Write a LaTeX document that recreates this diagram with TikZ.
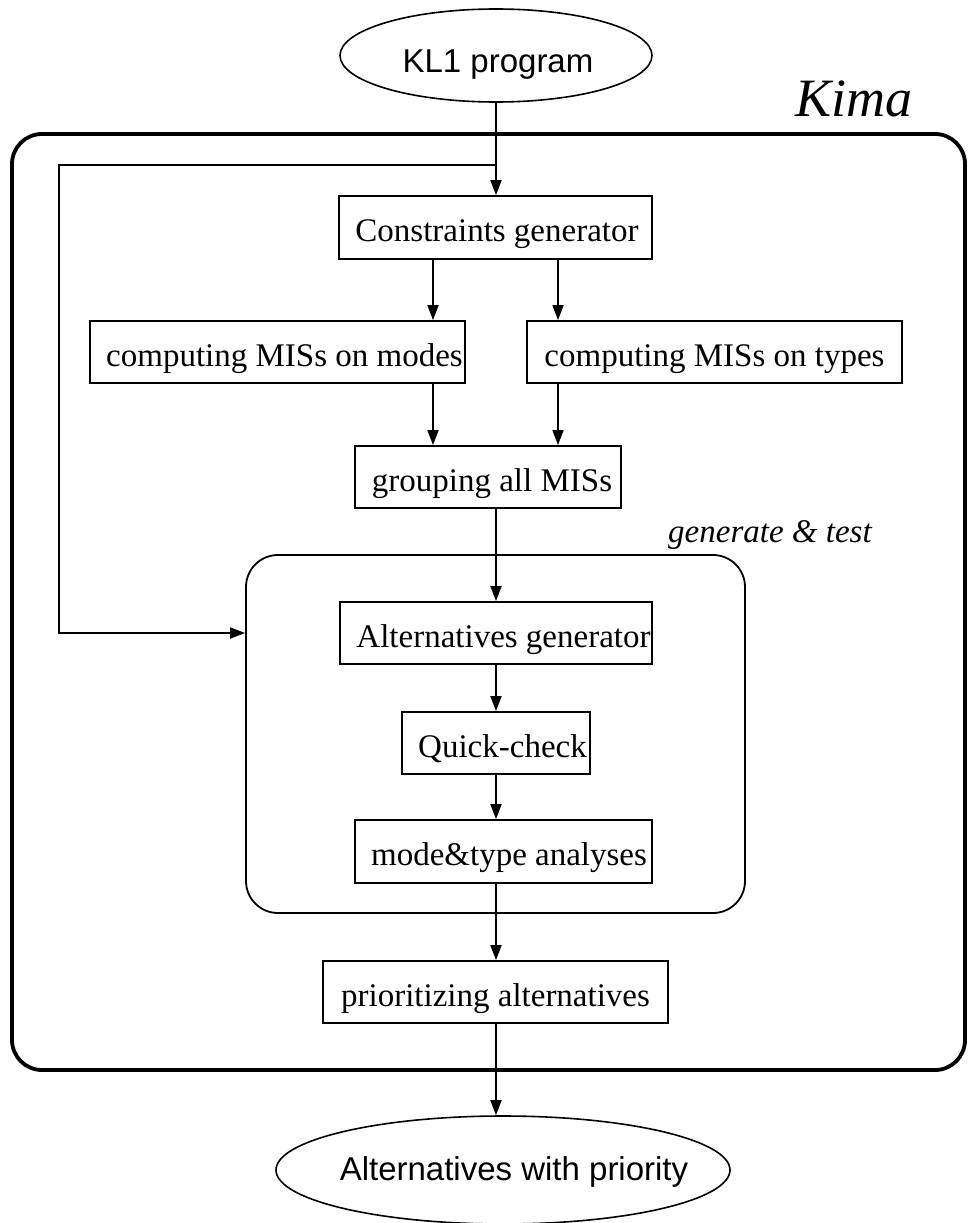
\documentclass[tikz,border=0pt]{standalone}
\usepackage{fontspec}
\setmainfont{Liberation Serif}
\newfontfamily\sansfont{Liberation Sans}
\usetikzlibrary{arrows.meta,shapes.geometric}

% zero-width label, optionally pushed right by half of the given space
\newcommand\boxtext[2][0pt]{\makebox[0pt]{\hspace*{#1}#2}}

\begin{document}
\begin{tikzpicture}[x=1pt,y=-1pt,
  every node/.style={inner sep=0pt},
  stage/.style={draw, rectangle, line width=1.8pt, text height=28pt, text depth=0pt,
                font=\fontsize{33}{36}\selectfont},
  term/.style={draw, ellipse, line width=1.6pt, text depth=0pt,
               font=\sansfont\fontsize{33}{36}\selectfont},
  flow/.style={line width=1.8pt, -{Triangle[length=15pt,width=11pt]}},
  frame/.style={draw, rectangle, line width=3.8pt, rounded corners=30pt},
  group/.style={draw, rectangle, line width=1.8pt, rounded corners=32pt},
  caption/.style={anchor=base west, font=\itshape\fontsize{#1}{#1}\selectfont},
]
\useasboundingbox (0,0) rectangle (969,1223);

% containers
\node[frame, minimum width=953pt, minimum height=936pt] (kima-frame) at (488.5,602) {};
\node[group, minimum width=499pt, minimum height=358pt] (gt) at (495.5,734) {};

% captions
\node[caption=54] (kima) at (795,116) {Kima};
\node[caption=33] (gtlabel) at (668,542) {generate \& test};

% terminals
\node[term, minimum width=312pt, minimum height=93pt, text height=33pt] (kl1) at (496,55.5)
  {\boxtext[4pt]{KL1 program}};
\node[term, minimum width=454pt, minimum height=108pt, text height=20pt] (out) at (503,1170)
  {\boxtext[22pt]{Alternatives with priority}};

% processing stages
\node[stage, minimum width=313pt, minimum height=63pt] (cg) at (495.5,227.5)
  {\boxtext[3pt]{Constraints generator}};
\node[stage, minimum width=375pt, minimum height=62pt] (modes) at (277.5,352)
  {\boxtext[14pt]{computing MISs on modes}};
\node[stage, minimum width=375pt, minimum height=62pt] (types) at (714.5,352)
  {\boxtext{computing MISs on types}};
\node[stage, minimum width=266pt, minimum height=62pt] (grp) at (488,477)
  {\boxtext[8pt]{grouping all MISs}};
\node[stage, minimum width=312pt, minimum height=62pt] (altg) at (496,633)
  {\boxtext[15pt]{Alternatives generator}};
\node[stage, minimum width=188pt, minimum height=62pt] (qc) at (496,743)
  {\boxtext[13pt]{Quick-check}};
\node[stage, minimum width=297pt, minimum height=63pt] (mt) at (503.5,851.5)
  {\boxtext[11pt]{mode\&type analyses}};
\node[stage, minimum width=345pt, minimum height=62pt] (prio) at (495.5,992)
  {\boxtext{prioritizing alternatives}};

% guide lines for the connectors
\coordinate (spine) at (496,0);
\coordinate (lx) at (433,0);
\coordinate (rx) at (558,0);
\coordinate (fb) at (59,165);

% connectors
\draw[flow] (kl1.south -| spine) -- (cg.north -| spine);
\draw[flow] (fb -| spine) -- (fb) |- (gt.west |- altg.west);
\draw[flow] (cg.south -| lx) -- (modes.north -| lx);
\draw[flow] (cg.south -| rx) -- (types.north -| rx);
\draw[flow] (modes.south -| lx) -- (grp.north -| lx);
\draw[flow] (types.south -| rx) -- (grp.north -| rx);
\draw[flow] (grp.south -| spine) -- (altg.north -| spine);
\draw[flow] (altg.south -| spine) -- (qc.north -| spine);
\draw[flow] (qc.south -| spine) -- (mt.north -| spine);
\draw[flow] (mt.south -| spine) -- (prio.north -| spine);
\draw[flow] (prio.south -| spine) -- (out.north -| spine);
\end{tikzpicture}
\end{document}
